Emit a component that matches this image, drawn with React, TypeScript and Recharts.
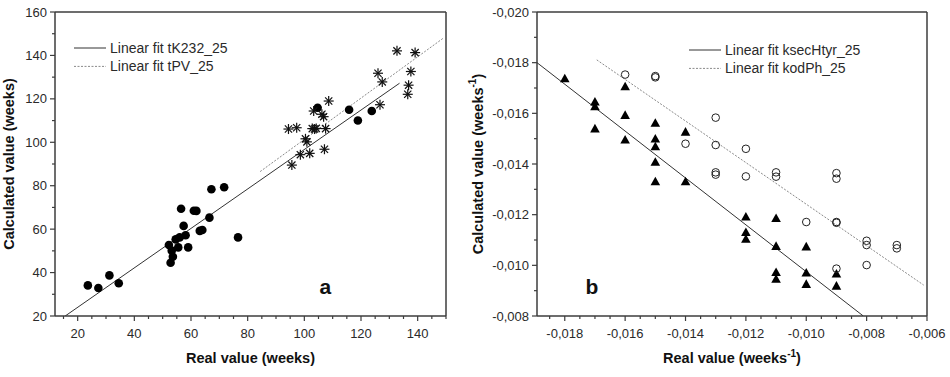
import React from "react";
import {
  ScatterChart,
  Scatter,
  XAxis,
  YAxis,
  ReferenceLine,
  ReferenceDot,
  Legend,
  Label,
} from "recharts";

const FONT = '"Liberation Sans", Arial, sans-serif';
const AXIS = "#3c3c3c";
const TEXT = "#2a2a2a";

// panel a: filled circles (tK232_25)
const tK232Points = [
  { x: 23.6, y: 34.1 }, { x: 27.3, y: 32.9 }, { x: 31.2, y: 38.7 }, { x: 34.5, y: 35.1 },
  { x: 52.2, y: 52.7 }, { x: 52.8, y: 44.5 }, { x: 53.2, y: 50.1 }, { x: 53.6, y: 47.3 },
  { x: 54.6, y: 55.3 }, { x: 56.0, y: 56.2 }, { x: 55.5, y: 51.6 }, { x: 56.5, y: 69.4 },
  { x: 57.4, y: 61.5 }, { x: 58.1, y: 57.2 }, { x: 59.0, y: 51.6 }, { x: 61.0, y: 68.5 },
  { x: 61.9, y: 68.4 }, { x: 63.1, y: 59.2 }, { x: 64.0, y: 59.6 }, { x: 66.5, y: 65.3 },
  { x: 67.2, y: 78.4 }, { x: 71.7, y: 79.3 }, { x: 76.6, y: 56.2 },
  { x: 104.7, y: 115.9 }, { x: 115.8, y: 115.0 }, { x: 118.9, y: 110.0 }, { x: 123.8, y: 114.4 },
];

// panel a: asterisks (tPV_25)
const tPVPoints = [
  { x: 95.6, y: 89.5 }, { x: 94.4, y: 106.1 }, { x: 97.3, y: 106.7 }, { x: 98.6, y: 94.3 },
  { x: 100.4, y: 101.6 }, { x: 100.9, y: 100.2 }, { x: 101.9, y: 94.9 }, { x: 102.8, y: 106.3 },
  { x: 103.6, y: 106.1 }, { x: 104.2, y: 106.4 }, { x: 103.3, y: 114.4 }, { x: 106.2, y: 112.9 },
  { x: 106.8, y: 111.8 }, { x: 107.5, y: 106.3 }, { x: 107.1, y: 96.8 }, { x: 108.6, y: 119.0 },
  { x: 126.0, y: 131.8 }, { x: 127.5, y: 127.8 }, { x: 126.7, y: 117.3 }, { x: 132.7, y: 142.1 },
  { x: 139.1, y: 141.3 }, { x: 137.6, y: 132.6 }, { x: 136.8, y: 126.3 }, { x: 136.5, y: 122.1 },
];

const tK232Fit = [{ x: 15.6, y: 20 }, { x: 133.6, y: 127.2 }];
const tPVFit = [{ x: 84.4, y: 86.5 }, { x: 149.3, y: 148.2 }];

const aXMajor = [20, 40, 60, 80, 100, 120, 140];
const aYMajor = [20, 40, 60, 80, 100, 120, 140, 160];

// panel b: filled triangles (ksecHtyr_25)
const ksecPoints = [
  { x: -0.018, y: -0.01737 },
  { x: -0.017, y: -0.01645 }, { x: -0.017, y: -0.01626 }, { x: -0.017, y: -0.01539 },
  { x: -0.016, y: -0.01705 }, { x: -0.016, y: -0.01592 }, { x: -0.016, y: -0.01495 },
  { x: -0.015, y: -0.01561 }, { x: -0.015, y: -0.01499 }, { x: -0.015, y: -0.01468 },
  { x: -0.015, y: -0.01407 }, { x: -0.015, y: -0.0133 },
  { x: -0.014, y: -0.01526 }, { x: -0.014, y: -0.0133 },
  { x: -0.012, y: -0.01191 }, { x: -0.012, y: -0.0113 }, { x: -0.012, y: -0.01103 },
  { x: -0.011, y: -0.01185 }, { x: -0.011, y: -0.01075 }, { x: -0.011, y: -0.00972 }, { x: -0.011, y: -0.00945 },
  { x: -0.01, y: -0.01073 }, { x: -0.01, y: -0.0097 }, { x: -0.01, y: -0.00925 },
  { x: -0.009, y: -0.00966 }, { x: -0.009, y: -0.00918 },
];

// panel b: open circles (kodPh_25)
const kodPhPoints = [
  { x: -0.016, y: -0.01753 },
  { x: -0.015, y: -0.01747 }, { x: -0.015, y: -0.01742 },
  { x: -0.014, y: -0.0148 },
  { x: -0.013, y: -0.01583 }, { x: -0.013, y: -0.01475 }, { x: -0.013, y: -0.01367 }, { x: -0.013, y: -0.01358 },
  { x: -0.012, y: -0.0146 }, { x: -0.012, y: -0.01351 },
  { x: -0.011, y: -0.01367 }, { x: -0.011, y: -0.0135 },
  { x: -0.01, y: -0.01171 },
  { x: -0.009, y: -0.01364 }, { x: -0.009, y: -0.01342 }, { x: -0.009, y: -0.01171 },
  { x: -0.009, y: -0.01168 }, { x: -0.009, y: -0.00987 },
  { x: -0.008, y: -0.01097 }, { x: -0.008, y: -0.0108 }, { x: -0.008, y: -0.01001 },
  { x: -0.007, y: -0.0108 }, { x: -0.007, y: -0.01067 },
];

const ksecFit = [{ x: -0.01892, y: -0.018 }, { x: -0.00811, y: -0.008 }];
const kodPhFit = [{ x: -0.01694, y: -0.01811 }, { x: -0.00611, y: -0.00922 }];

const bXMajor = [-0.018, -0.016, -0.014, -0.012, -0.01, -0.008, -0.006];
const bYMajor = [-0.02, -0.018, -0.016, -0.014, -0.012, -0.01, -0.008];

function steps(from: number, to: number, step: number) {
  const out: number[] = [];
  for (let v = from; v <= to + step / 2; v += step) out.push(Math.round(v * 1e6) / 1e6);
  return out;
}

const isMajor = (majors: number[], v: number) => majors.some((m) => Math.abs(m - v) < 1e-9);
const fmtA = (v: number) => String(v);
const fmtB = (v: number) => v.toFixed(3).replace(".", ",");

function BottomTick(props: any) {
  const { x, y, payload, majors, fmt } = props;
  const major = isMajor(majors, payload.value);
  return (
    <g>
      <line x1={x} x2={x} y1={y} y2={y + (major ? 5 : 3)} stroke={AXIS} strokeWidth={1.2} />
      {major && (
        <text x={x} y={y + 22} textAnchor="middle" fontSize={13} fill={TEXT} fontFamily={FONT}>
          {fmt(payload.value)}
        </text>
      )}
    </g>
  );
}

function LeftTick(props: any) {
  const { x, y, payload, majors, fmt } = props;
  const major = isMajor(majors, payload.value);
  return (
    <g>
      <line x1={x} x2={x - (major ? 5 : 3)} y1={y} y2={y} stroke={AXIS} strokeWidth={1.2} />
      {major && (
        <text x={x - 8} y={y + 4.5} textAnchor="end" fontSize={13} fill={TEXT} fontFamily={FONT}>
          {fmt(payload.value)}
        </text>
      )}
    </g>
  );
}

const Dot = (p: any) => <circle cx={p.cx} cy={p.cy} r={4.3} fill="#000" />;
const Star = (p: any) => {
  const { cx, cy } = p;
  const r = 5;
  const d = 3.6;
  return (
    <g stroke="#111" strokeWidth={1.2}>
      <line x1={cx - r} x2={cx + r} y1={cy} y2={cy} />
      <line x1={cx} x2={cx} y1={cy - r} y2={cy + r} />
      <line x1={cx - d} x2={cx + d} y1={cy - d} y2={cy + d} />
      <line x1={cx - d} x2={cx + d} y1={cy + d} y2={cy - d} />
    </g>
  );
};
const Triangle = (p: any) => (
  <polygon
    points={`${p.cx},${p.cy - 5} ${p.cx + 4.8},${p.cy + 3.6} ${p.cx - 4.8},${p.cy + 3.6}`}
    fill="#000"
  />
);
const Ring = (p: any) => <circle cx={p.cx} cy={p.cy} r={3.8} fill="none" stroke="#222" strokeWidth={1} />;
const NoShape = () => <g />;

const SOLID = { stroke: "#333", strokeWidth: 1 };
const DASHED = { stroke: "#8a8a8a", strokeWidth: 1, strokeDasharray: "2 1.5" };

function FitLegend({ items }: { items: { name: string; style: any }[] }) {
  return (
    <svg width={280} height={40} style={{ display: "block" }}>
      {items.map((it, i) => (
        <g key={it.name}>
          <line x1={0} x2={32} y1={9 + i * 18.4} y2={9 + i * 18.4} {...it.style} />
          <text x={36} y={14 + i * 18.4} fontSize={14} fill={TEXT} fontFamily={FONT}>
            {it.name}
          </text>
        </g>
      ))}
    </svg>
  );
}

function XTitle(props: any) {
  const vb = props.viewBox || {};
  return (
    <text x={vb.x + vb.width / 2} y={vb.y + 47} textAnchor="middle" fontSize={14.5} fontWeight="bold" fill="#111" fontFamily={FONT}>
      {props.sup ? (
        <>
          <tspan>Real value (weeks</tspan>
          <tspan dy={-6} fontSize={10}>-1</tspan>
          <tspan dy={6}>)</tspan>
        </>
      ) : (
        "Real value (weeks)"
      )}
    </text>
  );
}

function YTitle(props: any) {
  const vb = props.viewBox || {};
  const cx = props.cx;
  const cy = vb.y + vb.height / 2;
  return (
    <text
      x={cx}
      y={cy}
      transform={`rotate(-90, ${cx}, ${cy})`}
      textAnchor="middle"
      dominantBaseline="central"
      fontSize={14.5}
      fontWeight="bold"
      fill="#111"
      fontFamily={FONT}
    >
      {props.sup ? (
        <>
          <tspan>Calculated value (weeks</tspan>
          <tspan dy={-6} fontSize={10}>-1</tspan>
          <tspan dy={6}>)</tspan>
        </>
      ) : (
        "Calculated value (weeks)"
      )}
    </text>
  );
}

function PanelLabel(props: any) {
  const vb = props.viewBox || {};
  return (
    <text x={vb.x} y={vb.y + 7} textAnchor="middle" fontSize={21} fontWeight="bold" fill="#111" fontFamily={FONT}>
      {props.text}
    </text>
  );
}

function PanelA() {
  const xTicks = steps(15, 150, 5);
  const yTicks = steps(20, 160, 10);
  return (
    <ScatterChart width={465} height={377} margin={{ top: 12, right: 19, bottom: 0, left: 0 }}>
      <XAxis
        type="number"
        dataKey="x"
        domain={[12, 150]}
        ticks={xTicks}
        interval={0}
        tickSize={0}
        tickMargin={0}
        tickLine={false}
        height={61}
        axisLine={{ stroke: AXIS, strokeWidth: 1.5 }}
        tick={(p: any) => <BottomTick {...p} majors={aXMajor} fmt={fmtA} />}
        allowDataOverflow
      >
        <Label content={(p: any) => <XTitle {...p} />} />
      </XAxis>
      <YAxis
        type="number"
        dataKey="y"
        domain={[20, 160]}
        ticks={yTicks}
        interval={0}
        tickSize={0}
        tickMargin={0}
        tickLine={false}
        width={55}
        axisLine={{ stroke: AXIS, strokeWidth: 1.5 }}
        tick={(p: any) => <LeftTick {...p} majors={aYMajor} fmt={fmtA} />}
        allowDataOverflow
      >
        <Label content={(p: any) => <YTitle {...p} cx={9} />} />
      </YAxis>
      <ReferenceLine y={160} stroke={AXIS} strokeWidth={1.5} />
      <ReferenceLine x={150} stroke={AXIS} strokeWidth={1.5} />
      <Scatter name="Linear fit tK232_25" data={tK232Fit} line={SOLID} shape={NoShape} legendType="line" isAnimationActive={false} />
      <Scatter name="Linear fit tPV_25" data={tPVFit} line={DASHED} shape={NoShape} legendType="line" isAnimationActive={false} />
      <Scatter name="tK232_25" data={tK232Points} shape={Dot} legendType="none" isAnimationActive={false} />
      <Scatter name="tPV_25" data={tPVPoints} shape={Star} legendType="none" isAnimationActive={false} />
      <ReferenceDot x={107.4} y={33.4} r={0} fill="none" stroke="none" label={(p: any) => <PanelLabel {...p} text="a" />} />
      <Legend
        layout="horizontal"
        verticalAlign="middle"
        align="center"
        wrapperStyle={{ left: 74, top: 39, width: 280, height: 40 }}
        content={() => (
          <FitLegend
            items={[
              { name: "Linear fit tK232_25", style: SOLID },
              { name: "Linear fit tPV_25", style: DASHED },
            ]}
          />
        )}
      />
    </ScatterChart>
  );
}

function PanelB() {
  const xTicks = steps(-0.0185, -0.006, 0.0005);
  const yTicks = steps(-0.02, -0.008, 0.001);
  return (
    <ScatterChart width={485} height={377} margin={{ top: 12, right: 23, bottom: 0, left: 0 }}>
      <XAxis
        type="number"
        dataKey="x"
        domain={[-0.01892, -0.006]}
        ticks={xTicks}
        interval={0}
        tickSize={0}
        tickMargin={0}
        tickLine={false}
        height={61}
        axisLine={{ stroke: AXIS, strokeWidth: 1.5 }}
        tick={(p: any) => <BottomTick {...p} majors={bXMajor} fmt={fmtB} />}
        allowDataOverflow
      >
        <Label content={(p: any) => <XTitle {...p} sup />} />
      </XAxis>
      <YAxis
        type="number"
        dataKey="y"
        domain={[-0.02, -0.008]}
        reversed
        ticks={yTicks}
        interval={0}
        tickSize={0}
        tickMargin={0}
        tickLine={false}
        width={72}
        axisLine={{ stroke: AXIS, strokeWidth: 1.5 }}
        tick={(p: any) => <LeftTick {...p} majors={bYMajor} fmt={fmtB} />}
        allowDataOverflow
      >
        <Label content={(p: any) => <YTitle {...p} cx={13} sup />} />
      </YAxis>
      <ReferenceLine y={-0.02} stroke={AXIS} strokeWidth={1.5} />
      <ReferenceLine x={-0.006} stroke={AXIS} strokeWidth={1.5} />
      <Scatter name="Linear fit ksecHtyr_25" data={ksecFit} line={SOLID} shape={NoShape} legendType="line" isAnimationActive={false} />
      <Scatter name="Linear fit kodPh_25" data={kodPhFit} line={DASHED} shape={NoShape} legendType="line" isAnimationActive={false} />
      <Scatter name="ksecHtyr_25" data={ksecPoints} shape={Triangle} legendType="none" isAnimationActive={false} />
      <Scatter name="kodPh_25" data={kodPhPoints} shape={Ring} legendType="none" isAnimationActive={false} />
      <ReferenceDot x={-0.0171} y={-0.00914} r={0} fill="none" stroke="none" label={(p: any) => <PanelLabel {...p} text="b" />} />
      <Legend
        layout="horizontal"
        verticalAlign="middle"
        align="center"
        wrapperStyle={{ left: 224, top: 41, width: 250, height: 40 }}
        content={() => (
          <FitLegend
            items={[
              { name: "Linear fit ksecHtyr_25", style: SOLID },
              { name: "Linear fit kodPh_25", style: DASHED },
            ]}
          />
        )}
      />
    </ScatterChart>
  );
}

export default function App() {
  return (
    <div style={{ position: "absolute", left: 0, top: 0, width: 950, height: 377, background: "#fff", display: "flex" }}>
      <PanelA />
      <PanelB />
    </div>
  );
}
